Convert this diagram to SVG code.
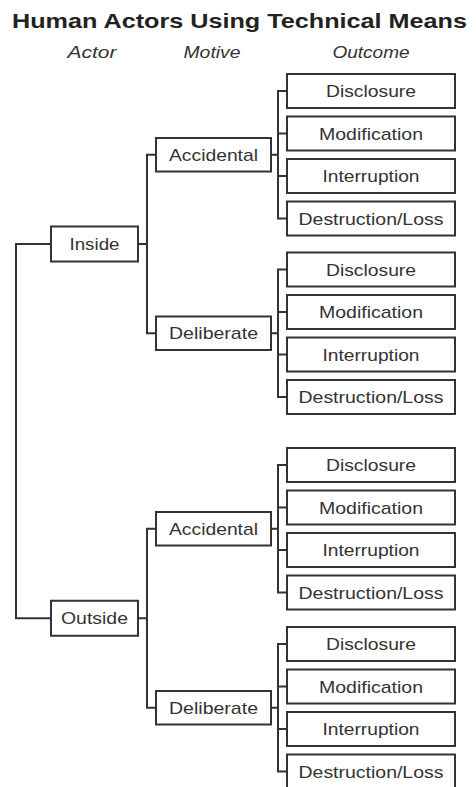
<svg xmlns="http://www.w3.org/2000/svg" width="476" height="787" viewBox="0 0 476 787">
  <style>
    text { font-family: "Liberation Sans", Arial, sans-serif; fill: #333; text-anchor: middle; }
    .title { font-size: 21px; font-weight: bold; fill: #222; text-anchor: start; }
    .head { font-size: 16px; font-style: italic; }
    .lbl { font-size: 17px; }
    rect { fill: #fff; stroke: #333; stroke-width: 2; }
    .wire { fill: none; stroke: #333; stroke-width: 2; }
  </style>

  <text class="title" x="12" y="28" textLength="455" lengthAdjust="spacingAndGlyphs">Human Actors Using Technical Means</text>
  <text class="head" x="92" y="58" textLength="49" lengthAdjust="spacingAndGlyphs">Actor</text>
  <text class="head" x="212" y="58" textLength="57" lengthAdjust="spacingAndGlyphs">Motive</text>
  <text class="head" x="371" y="58" textLength="77" lengthAdjust="spacingAndGlyphs">Outcome</text>

  <!-- connectors -->
  <g id="connectors" class="wire">
    <!-- root to actors -->
    <path d="M51,244 H16 V618.25 H51"/>
    <!-- Inside to motives -->
    <path d="M138,244 H147"/>
    <path d="M156,154.75 H147 V333.25 H156"/>
    <!-- Outside to motives -->
    <path d="M138,618.25 H147"/>
    <path d="M156,528.75 H147 V707.75 H156"/>
    <!-- motives to outcomes -->
    <path d="M271,154.75 H278 M287,91 H278 V218.5 H287 M278,133.5 H287 M278,176 H287"/>
    <path d="M271,333.25 H278 M287,269.5 H278 V397 H287 M278,312 H287 M278,354.5 H287"/>
    <path d="M271,528.75 H278 M287,465 H278 V592.5 H287 M278,507.5 H287 M278,550 H287"/>
    <path d="M271,707.75 H278 M287,644 H278 V771.5 H287 M278,686.5 H287 M278,729 H287"/>
  </g>

  <!-- actors -->
  <g id="inside"><rect x="51" y="226.5" width="87" height="35"/><text class="lbl" x="94.5" y="250" textLength="50" lengthAdjust="spacingAndGlyphs">Inside</text></g>
  <g id="outside"><rect x="51" y="600.75" width="87" height="35"/><text class="lbl" x="94.5" y="624.25" textLength="67" lengthAdjust="spacingAndGlyphs">Outside</text></g>

  <!-- motives -->
  <g id="inside-accidental"><rect x="156" y="138" width="115" height="33.5"/><text class="lbl" x="213.5" y="160.75" textLength="89" lengthAdjust="spacingAndGlyphs">Accidental</text></g>
  <g id="inside-deliberate"><rect x="156" y="316.5" width="115" height="33.5"/><text class="lbl" x="213.5" y="339.25" textLength="89" lengthAdjust="spacingAndGlyphs">Deliberate</text></g>
  <g id="outside-accidental"><rect x="156" y="512" width="115" height="33.5"/><text class="lbl" x="213.5" y="534.75" textLength="89" lengthAdjust="spacingAndGlyphs">Accidental</text></g>
  <g id="outside-deliberate"><rect x="156" y="691" width="115" height="33.5"/><text class="lbl" x="213.5" y="713.75" textLength="89" lengthAdjust="spacingAndGlyphs">Deliberate</text></g>

  <!-- outcomes: inside / accidental -->
  <g id="ia-disclosure"><rect x="287" y="74" width="168" height="34"/><text class="lbl" x="371" y="97" textLength="90" lengthAdjust="spacingAndGlyphs">Disclosure</text></g>
  <g id="ia-modification"><rect x="287" y="116.5" width="168" height="34"/><text class="lbl" x="371" y="139.5" textLength="104" lengthAdjust="spacingAndGlyphs">Modification</text></g>
  <g id="ia-interruption"><rect x="287" y="159" width="168" height="34"/><text class="lbl" x="371" y="182" textLength="97" lengthAdjust="spacingAndGlyphs">Interruption</text></g>
  <g id="ia-destruction"><rect x="287" y="201.5" width="168" height="34"/><text class="lbl" x="371" y="224.5" textLength="145" lengthAdjust="spacingAndGlyphs">Destruction/Loss</text></g>

  <!-- outcomes: inside / deliberate -->
  <g id="id-disclosure"><rect x="287" y="252.5" width="168" height="34"/><text class="lbl" x="371" y="275.5" textLength="90" lengthAdjust="spacingAndGlyphs">Disclosure</text></g>
  <g id="id-modification"><rect x="287" y="295" width="168" height="34"/><text class="lbl" x="371" y="318" textLength="104" lengthAdjust="spacingAndGlyphs">Modification</text></g>
  <g id="id-interruption"><rect x="287" y="337.5" width="168" height="34"/><text class="lbl" x="371" y="360.5" textLength="97" lengthAdjust="spacingAndGlyphs">Interruption</text></g>
  <g id="id-destruction"><rect x="287" y="380" width="168" height="34"/><text class="lbl" x="371" y="403" textLength="145" lengthAdjust="spacingAndGlyphs">Destruction/Loss</text></g>

  <!-- outcomes: outside / accidental -->
  <g id="oa-disclosure"><rect x="287" y="448" width="168" height="34"/><text class="lbl" x="371" y="471" textLength="90" lengthAdjust="spacingAndGlyphs">Disclosure</text></g>
  <g id="oa-modification"><rect x="287" y="490.5" width="168" height="34"/><text class="lbl" x="371" y="513.5" textLength="104" lengthAdjust="spacingAndGlyphs">Modification</text></g>
  <g id="oa-interruption"><rect x="287" y="533" width="168" height="34"/><text class="lbl" x="371" y="556" textLength="97" lengthAdjust="spacingAndGlyphs">Interruption</text></g>
  <g id="oa-destruction"><rect x="287" y="575.5" width="168" height="34"/><text class="lbl" x="371" y="598.5" textLength="145" lengthAdjust="spacingAndGlyphs">Destruction/Loss</text></g>

  <!-- outcomes: outside / deliberate -->
  <g id="od-disclosure"><rect x="287" y="627" width="168" height="34"/><text class="lbl" x="371" y="650" textLength="90" lengthAdjust="spacingAndGlyphs">Disclosure</text></g>
  <g id="od-modification"><rect x="287" y="669.5" width="168" height="34"/><text class="lbl" x="371" y="692.5" textLength="104" lengthAdjust="spacingAndGlyphs">Modification</text></g>
  <g id="od-interruption"><rect x="287" y="712" width="168" height="34"/><text class="lbl" x="371" y="735" textLength="97" lengthAdjust="spacingAndGlyphs">Interruption</text></g>
  <g id="od-destruction"><rect x="287" y="754.5" width="168" height="34"/><text class="lbl" x="371" y="777.5" textLength="145" lengthAdjust="spacingAndGlyphs">Destruction/Loss</text></g>
</svg>
